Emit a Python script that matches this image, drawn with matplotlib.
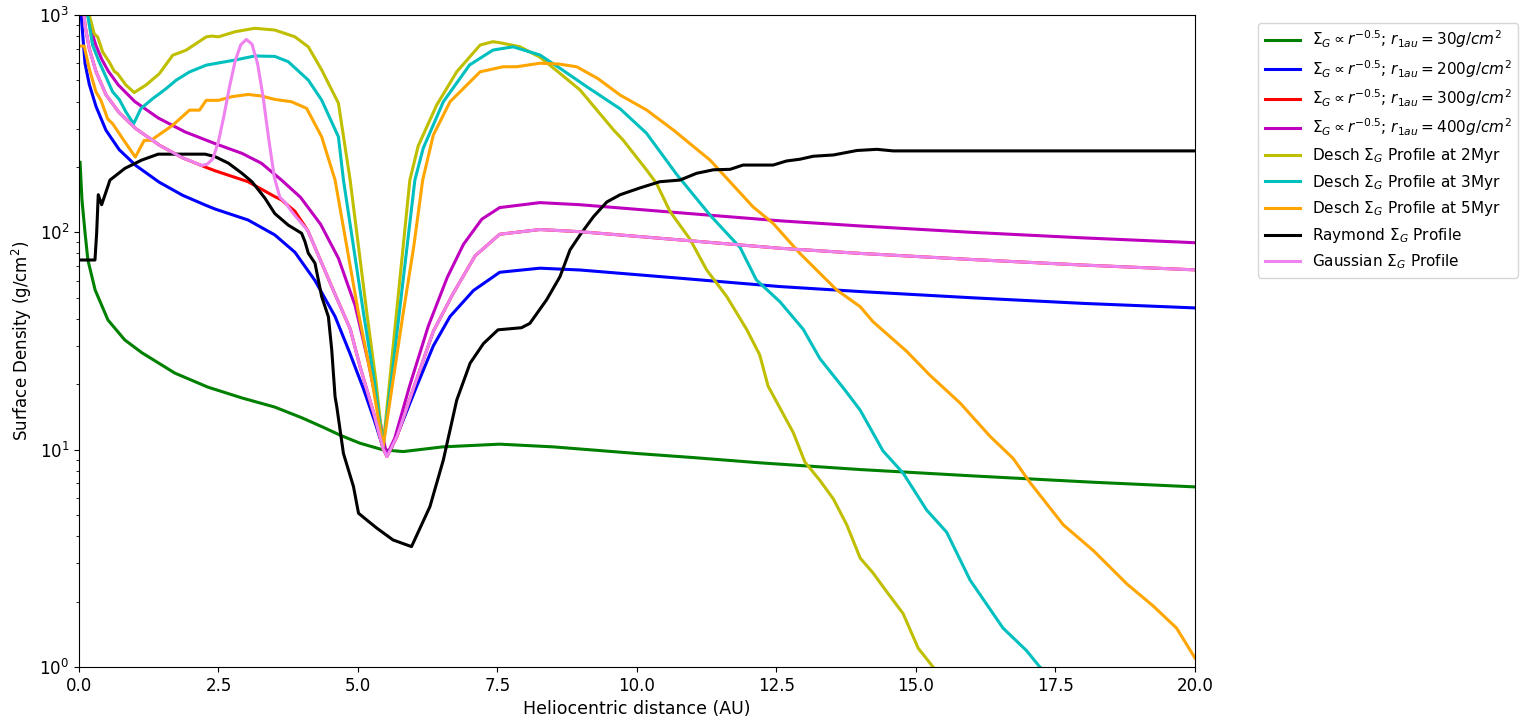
import matplotlib
matplotlib.use("Agg")
import matplotlib.pyplot as plt
from matplotlib.ticker import FormatStrFormatter

plt.rcParams['font.family'] = ['DejaVu Sans']
plt.rcParams['font.size'] = 12

# ---- data (AU, g/cm^2) ----
green_x = [0.02, 0.054, 0.11, 0.16, 0.29, 0.52, 0.82, 1.13, 1.72, 2.31, 2.92, 3.51, 4.0, 4.4, 4.7,
           5.04, 5.45, 5.81, 6.52, 7.54, 8.5, 10.0, 11.0, 12.2, 14.0, 16.03, 18.18, 20.0]
green_v = [210, 141, 99, 74.6, 54.3, 39.5, 32.0, 27.9, 22.5, 19.4, 17.3, 15.7, 14.0, 12.6, 11.6,
           10.7, 9.98, 9.8, 10.3, 10.6, 10.3, 9.6, 9.2, 8.7, 8.1, 7.57, 7.08, 6.74]

blue_x = [0.01, 0.04, 0.108, 0.185, 0.305, 0.484, 0.722, 1.02, 1.44, 1.86, 2.28, 2.44, 3.03, 3.51,
          3.87, 4.23, 4.59, 4.85, 5.1, 5.3, 5.43, 5.51, 5.6, 5.75, 6.05, 6.35, 6.65, 7.07, 7.54,
          8.26, 8.98, 10.77, 12.56, 14.0, 16.0, 18.0, 20.0]
blue_v = [2000, 1000, 600, 480, 380, 295, 240, 203, 170, 148, 133, 128, 114, 97.3,
          81, 60, 41, 28, 19, 13.5, 10.6, 9.6, 10.2, 12.5, 19.5, 30, 41, 54, 65.5,
          68.4, 67.1, 61.5, 56.3, 53.4, 50.0, 47.1, 44.9]

red_x = [0.02, 0.05, 0.108, 0.185, 0.305, 0.484, 0.722, 1.02, 1.44, 1.86, 2.28, 2.44, 3.03, 3.51,
         3.63, 3.87, 4.1, 4.56, 4.86, 5.04, 5.29, 5.45, 5.52, 5.7, 6.02, 6.35, 6.7, 7.1, 7.54,
         8.26, 8.98, 10.77, 12.56, 14.0, 16.0, 18.0, 20.0]
red_v = [2100, 1340, 900, 700, 550, 430, 355, 300, 252, 220, 199, 192, 171, 146,
         141, 125, 102, 54, 36, 24, 14.5, 10.1, 9.3, 11.5, 20, 35, 52, 78, 98,
         103, 100.7, 92.3, 84.5, 80, 75, 70.7, 67.2]

magenta_x = [0.1, 0.16, 0.228, 0.305, 0.407, 0.525, 0.704, 1.0, 1.42, 1.9, 2.44, 2.92, 3.27, 3.63,
             3.97, 4.33, 4.65, 4.95, 5.19, 5.36, 5.47, 5.52, 5.66, 5.93, 6.26, 6.6, 6.89, 7.22,
             7.54, 8.26, 8.98, 10.77, 12.56, 14.0, 16.0, 18.0, 20.0]
magenta_v = [1265, 1000, 838, 724, 627, 552, 477, 400, 336, 290, 256, 231, 208, 174,
             145, 109, 76, 46, 25, 15.2, 10.7, 9.46, 11.3, 19.8, 37, 62, 88, 115,
             130, 137, 134, 123, 113, 107, 100, 94.3, 89.6]

desch2_x = [0.15, 0.185, 0.274, 0.335, 0.425, 0.543, 0.633, 0.693, 0.842, 0.99, 1.20, 1.44, 1.68,
            1.92, 2.28, 2.38, 2.5, 2.80, 3.15, 3.51, 3.87, 4.11, 4.35, 4.65, 4.86, 5.01, 5.16,
            5.32, 5.45, 5.57, 5.69, 5.81, 5.93, 6.08, 6.41, 6.77, 7.19, 7.42, 7.54,
            7.9, 8.26, 8.62, 8.98, 9.58, 9.75, 10.17, 10.35, 10.59, 10.95, 11.25, 11.61, 11.97,
            12.2, 12.35, 12.62, 12.80, 13.01, 13.28, 13.52, 13.76, 14.0, 14.23, 14.47, 14.77,
            15.04, 15.28, 15.5]
desch2_v = [1100, 1000, 820, 793, 676, 608, 551, 537, 476, 440, 476, 537, 653,
            689, 793, 800, 794, 838, 869, 853, 794, 714, 559, 393, 174, 86, 42.4,
            20.9, 10.3, 20.9, 42.4, 86, 174, 250, 385, 548, 728, 754, 746,
            715, 640, 539, 452, 296, 266, 194, 168, 125, 93, 67.1, 50.6, 35.6,
            27.3, 19.6, 14.6, 12.0, 8.77, 7.21, 5.93, 4.51, 3.17, 2.71, 2.23, 1.76,
            1.22, 1.02, 0.85]

desch3_x = [0.1, 0.156, 0.245, 0.364, 0.484, 0.604, 0.722, 0.842, 0.98, 1.11, 1.32, 1.56, 1.74,
            1.98, 2.28, 2.80, 3.15, 3.51, 3.75, 4.11, 4.35, 4.65, 4.74, 4.92, 5.10, 5.29, 5.45,
            5.60, 5.74, 5.88, 6.02, 6.17, 6.53, 7.0, 7.42, 7.78, 8.26, 8.62,
            9.10, 9.70, 10.17, 10.71, 11.31, 11.85, 12.14, 12.56, 12.98, 13.28, 13.70, 14.0,
            14.41, 14.77, 15.19, 15.55, 15.97, 16.56, 16.98, 17.22, 17.4]
desch3_v = [1200, 1000, 726, 608, 519, 443, 409, 358, 316, 371, 412, 458, 501,
            547, 588, 621, 648, 645, 610, 502, 406, 275, 174, 86, 42.4, 20.9, 10.3,
            20.9, 42.4, 86, 174, 244, 399, 589, 690, 714, 655, 569,
            468, 370, 286, 185, 120, 85, 60.4, 48, 35.8, 26.2, 19.2, 15.2,
            9.86, 7.8, 5.28, 4.17, 2.51, 1.51, 1.19, 1.0, 0.9]

desch5_x = [0.0, 0.095, 0.185, 0.305, 0.394, 0.514, 0.604, 0.783, 1.01, 1.17, 1.29, 1.68, 1.98,
            2.16, 2.28, 2.5, 2.74, 3.03, 3.27, 3.51, 3.81, 4.08, 4.35, 4.59, 4.8, 5.01, 5.25,
            5.45, 5.63, 5.81, 6.0, 6.16, 6.35, 6.65, 7.19, 7.60, 7.84, 8.26,
            8.6, 8.92, 9.3, 9.70, 10.17, 10.65, 11.31, 12.08, 12.44, 12.92, 13.58, 14.0, 14.23,
            14.83, 15.25, 15.79, 16.33, 16.74, 17.04, 17.64, 18.18, 18.78, 19.25, 19.67, 20.0]
desch5_v = [720, 720, 566, 443, 405, 333, 316, 270, 222, 265, 265, 311, 365,
            365, 405, 405, 421, 431, 424, 409, 399, 372, 275, 174, 86, 42.4, 20.9,
            10.3, 20.9, 42.4, 86, 174, 280, 399, 548, 578, 578, 600,
            595, 578, 510, 428, 366, 296, 215, 131, 110, 80, 54.3, 45.5, 38.8,
            28.4, 22, 16.4, 11.5, 9.12, 7.08, 4.51, 3.43, 2.41, 1.91, 1.51, 1.10]

raymond_x = [0.0, 0.287, 0.317, 0.346, 0.407, 0.556, 0.824, 1.124, 1.42, 2.26, 2.44, 2.68, 2.92,
             3.10, 3.33, 3.51, 3.75, 3.99, 4.05, 4.11, 4.23, 4.35, 4.47, 4.53, 4.59, 4.62, 4.74,
             4.92, 5.01, 5.16, 5.34, 5.63, 5.96, 6.29, 6.53, 6.77, 7.01, 7.25, 7.51, 7.93, 8.08,
             8.38, 8.62, 8.80, 8.98, 9.22, 9.46, 9.70, 10.05, 10.41, 10.77, 11.07, 11.37, 11.67,
             11.9, 12.44, 12.68, 12.92, 13.16, 13.52, 13.94, 14.3, 14.59, 20.0]
raymond_v = [74.6, 74.6, 99, 149, 134, 174, 197, 215, 229, 229, 223, 208, 187,
             171, 144, 122, 108, 99, 90.7, 80.2, 72.1, 50.6, 40.9, 28.8, 17.5, 15.8, 9.6,
             6.76, 5.1, 4.74, 4.35, 3.84, 3.58, 5.47, 8.96, 16.9, 25, 30.8, 35.6, 36.4, 38.1,
             48.9, 62.5, 83, 97.3, 118, 138, 149, 160, 171, 174, 187, 194, 195,
             204, 204, 213, 217, 224, 227, 238, 241, 237, 237]

gauss_x = [0.02, 0.05, 0.108, 0.185, 0.305, 0.484, 0.722, 1.02, 1.44, 1.86, 2.1, 2.2, 2.3, 2.4,
           2.5, 2.6, 2.7, 2.8, 2.9, 3.0, 3.1, 3.2, 3.3, 3.4, 3.5, 3.6, 3.7, 3.8, 3.9, 4.1, 4.56,
           4.86, 5.04, 5.29, 5.45, 5.52, 5.7, 6.02, 6.35, 6.7, 7.1, 7.54, 8.26, 8.98, 10.77,
           12.56, 14.0, 16.0, 18.0, 20.0]
gauss_v = [2100, 1340, 900, 700, 550, 430, 355, 300, 252, 220, 208, 203, 206, 218,
           262, 345, 470, 615, 730, 772, 735, 600, 420, 270, 180, 145, 137, 126, 117, 102, 54,
           36, 24, 14.5, 10.1, 9.3, 11.5, 20, 35, 52, 78, 98, 103, 100.7, 92.3,
           84.5, 80, 75, 70.7, 67.2]

series = [
    (green_x, green_v, 'g', r'$\Sigma_G \propto r^{-0.5}$; $r_{1au} = 30g/cm^2$'),
    (blue_x, blue_v, 'b', r'$\Sigma_G \propto r^{-0.5}$; $r_{1au} = 200g/cm^2$'),
    (red_x, red_v, 'r', r'$\Sigma_G \propto r^{-0.5}$; $r_{1au} = 300g/cm^2$'),
    (magenta_x, magenta_v, 'm', r'$\Sigma_G \propto r^{-0.5}$; $r_{1au} = 400g/cm^2$'),
    (desch2_x, desch2_v, 'y', r'Desch $\Sigma_G$ Profile at 2Myr'),
    (desch3_x, desch3_v, 'c', r'Desch $\Sigma_G$ Profile at 3Myr'),
    (desch5_x, desch5_v, 'orange', r'Desch $\Sigma_G$ Profile at 5Myr'),
    (raymond_x, raymond_v, 'k', r'Raymond $\Sigma_G$ Profile'),
    (gauss_x, gauss_v, 'violet', r'Gaussian $\Sigma_G$ Profile'),
]

fig = plt.figure(figsize=(15.33, 7.26), dpi=100)
ax = fig.add_axes([0.0515, 0.0813, 0.728, 0.898])
for x, v, c, lab in series:
    ax.plot(x, v, color=c, lw=2.2, label=lab)

ax.set_yscale('log')
ax.set_xlim(0, 20)
ax.set_ylim(1, 1000)
ax.xaxis.set_major_formatter(FormatStrFormatter('%.1f'))
ax.set_xlabel('Heliocentric distance (AU)', fontsize=12.5)
ax.set_ylabel(r'Surface Density (g/cm$^2$)')
ax.legend(loc='upper left', bbox_to_anchor=(1.05, 1), fontsize=11, handlelength=2.3)

fig.savefig('out.png', dpi=100)
